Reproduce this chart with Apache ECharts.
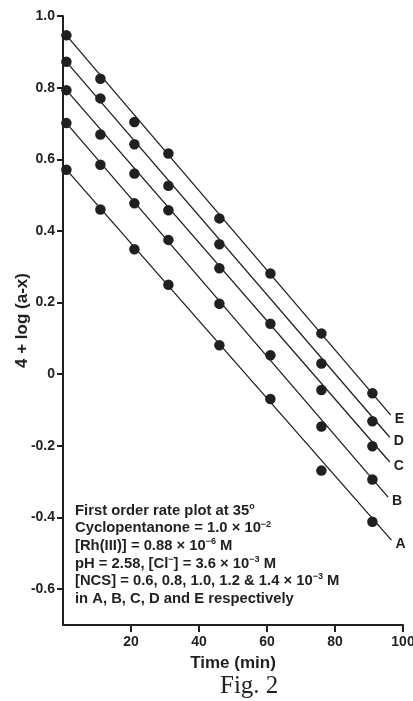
<!DOCTYPE html>
<html>
<head>
<meta charset="utf-8">
<script src="https://cdn.jsdelivr.net/npm/echarts@6/dist/echarts.min.js"></script>
<style>
html,body{margin:0;padding:0;background:#fff;}
#chart{width:413px;height:701px;}
</style>
</head>
<body>
<div id="chart"></div>
<script>
// ---- data ----
var times = [1, 11, 21, 31, 46, 61, 76, 91];
var seriesNames = ['A', 'B', 'C', 'D', 'E'];
var valuesA = [0.571, 0.460, 0.349, 0.250, 0.081, -0.069, -0.269, -0.412];
var valuesB = [0.701, 0.585, 0.477, 0.375, 0.197, 0.053, -0.146, -0.294];
var valuesC = [0.793, 0.669, 0.560, 0.458, 0.296, 0.141, -0.044, -0.201];
var valuesD = [0.872, 0.770, 0.642, 0.526, 0.363, null, 0.030, -0.131];
var valuesE = [0.946, 0.825, 0.704, 0.616, 0.435, 0.281, 0.114, -0.053];
// fitted straight lines: [start, end] points
var lineA = [[1, 0.571], [96.6, -0.463]];
var lineB = [[1, 0.701], [95.6, -0.343]];
var lineC = [[1, 0.793], [96.1, -0.245]];
var lineD = [[1, 0.872], [96.1, -0.176]];
var lineE = [[1, 0.946], [96.4, -0.114]];
var xTicks = [20, 40, 60, 80, 100];
var yTicks = [-0.6, -0.4, -0.2, 0, 0.2, 0.4, 0.6, 0.8, 1.0];

var INK = '#231f20';
var FONT = '"Liberation Sans", Arial, sans-serif';
var allValues = [valuesA, valuesB, valuesC, valuesD, valuesE];
var allLines = [lineA, lineB, lineC, lineD, lineE];

var series = [];
seriesNames.forEach(function (name, i) {
  series.push({
    name: name + ' fit',
    type: 'line',
    data: allLines[i],
    showSymbol: false,
    symbol: 'none',
    silent: true,
    lineStyle: { color: INK, width: 1.3 },
    endLabel: {
      show: true,
      formatter: name,
      color: INK,
      fontFamily: FONT,
      fontWeight: 'bold',
      fontSize: 14,
      distance: 4,
      offset: [0, 4]
    },
    z: 2
  });
  var pts = [];
  times.forEach(function (t, j) {
    if (allValues[i][j] !== null) pts.push([t, allValues[i][j]]);
  });
  series.push({
    name: name,
    type: 'scatter',
    data: pts,
    symbol: 'circle',
    symbolSize: 10.5,
    itemStyle: { color: INK, opacity: 1 },
    z: 3
  });
});

var chart = echarts.init(document.getElementById('chart'), null, { renderer: 'canvas' });
chart.setOption({
  animation: false,
  backgroundColor: '#fff',
  grid: { left: 63, right: 10, top: 16, bottom: 76, containLabel: false, outerBoundsMode: 'none' },
  xAxis: {
    type: 'value',
    min: 0,
    max: 100,
    name: 'Time (min)',
    nameLocation: 'middle',
    nameGap: 30,
    nameMoveOverlap: false,
    nameTextStyle: { color: INK, fontFamily: FONT, fontWeight: 'bold', fontSize: 17 },
    axisLine: { show: true, onZero: false, lineStyle: { color: INK, width: 2 } },
    axisTick: { show: true, customValues: xTicks, length: 7, lineStyle: { color: INK, width: 2 } },
    axisLabel: { customValues: xTicks, color: INK, fontFamily: FONT, fontWeight: 'bold', fontSize: 14, margin: 10 },
    splitLine: { show: false }
  },
  yAxis: {
    type: 'value',
    min: -0.7,
    max: 1.0,
    name: '4 + log (a-x)',
    nameLocation: 'middle',
    nameGap: 32,
    nameMoveOverlap: false,
    nameRotate: 90,
    nameTextStyle: { color: INK, fontFamily: FONT, fontWeight: 'bold', fontSize: 17 },
    axisLine: { show: true, onZero: false, lineStyle: { color: INK, width: 2 } },
    axisTick: { show: true, customValues: yTicks, length: 6, lineStyle: { color: INK, width: 2 } },
    axisLabel: {
      customValues: yTicks,
      color: INK, fontFamily: FONT, fontWeight: 'bold', fontSize: 14, margin: 8,
      formatter: function (v) { return Math.abs(v) < 1e-9 ? '0' : v.toFixed(1); }
    },
    splitLine: { show: false }
  },
  graphic: [
    {
      type: 'text',
      left: 75,
      top: 502,
      style: {
        text: [
          'First order rate plot at 35{s|o}',
          'Cyclopentanone = 1.0 × 10{s|−2}',
          '[Rh(III)] = 0.88 × 10{s|−6} M',
          'pH = 2.58, [Cl{s|−}] = 3.6 × 10{s|−3} M',
          '[NCS] = 0.6, 0.8, 1.0, 1.2 & 1.4 × 10{s|−3} M',
          'in A, B, C, D and E respectively'
        ].join('\n'),
        fill: INK,
        font: 'bold 14.8px ' + FONT,
        lineHeight: 17.6,
        rich: {
          s: { fontSize: 9, fontWeight: 'bold', fontFamily: FONT, fill: INK, verticalAlign: 'top', lineHeight: 12 }
        }
      }
    },
    {
      type: 'text',
      left: 220,
      top: 674,
      style: {
        text: 'Fig. 2',
        fill: INK,
        font: '25px "Liberation Serif", "Times New Roman", serif'
      }
    }
  ],
  series: series
});
</script>
</body>
</html>
